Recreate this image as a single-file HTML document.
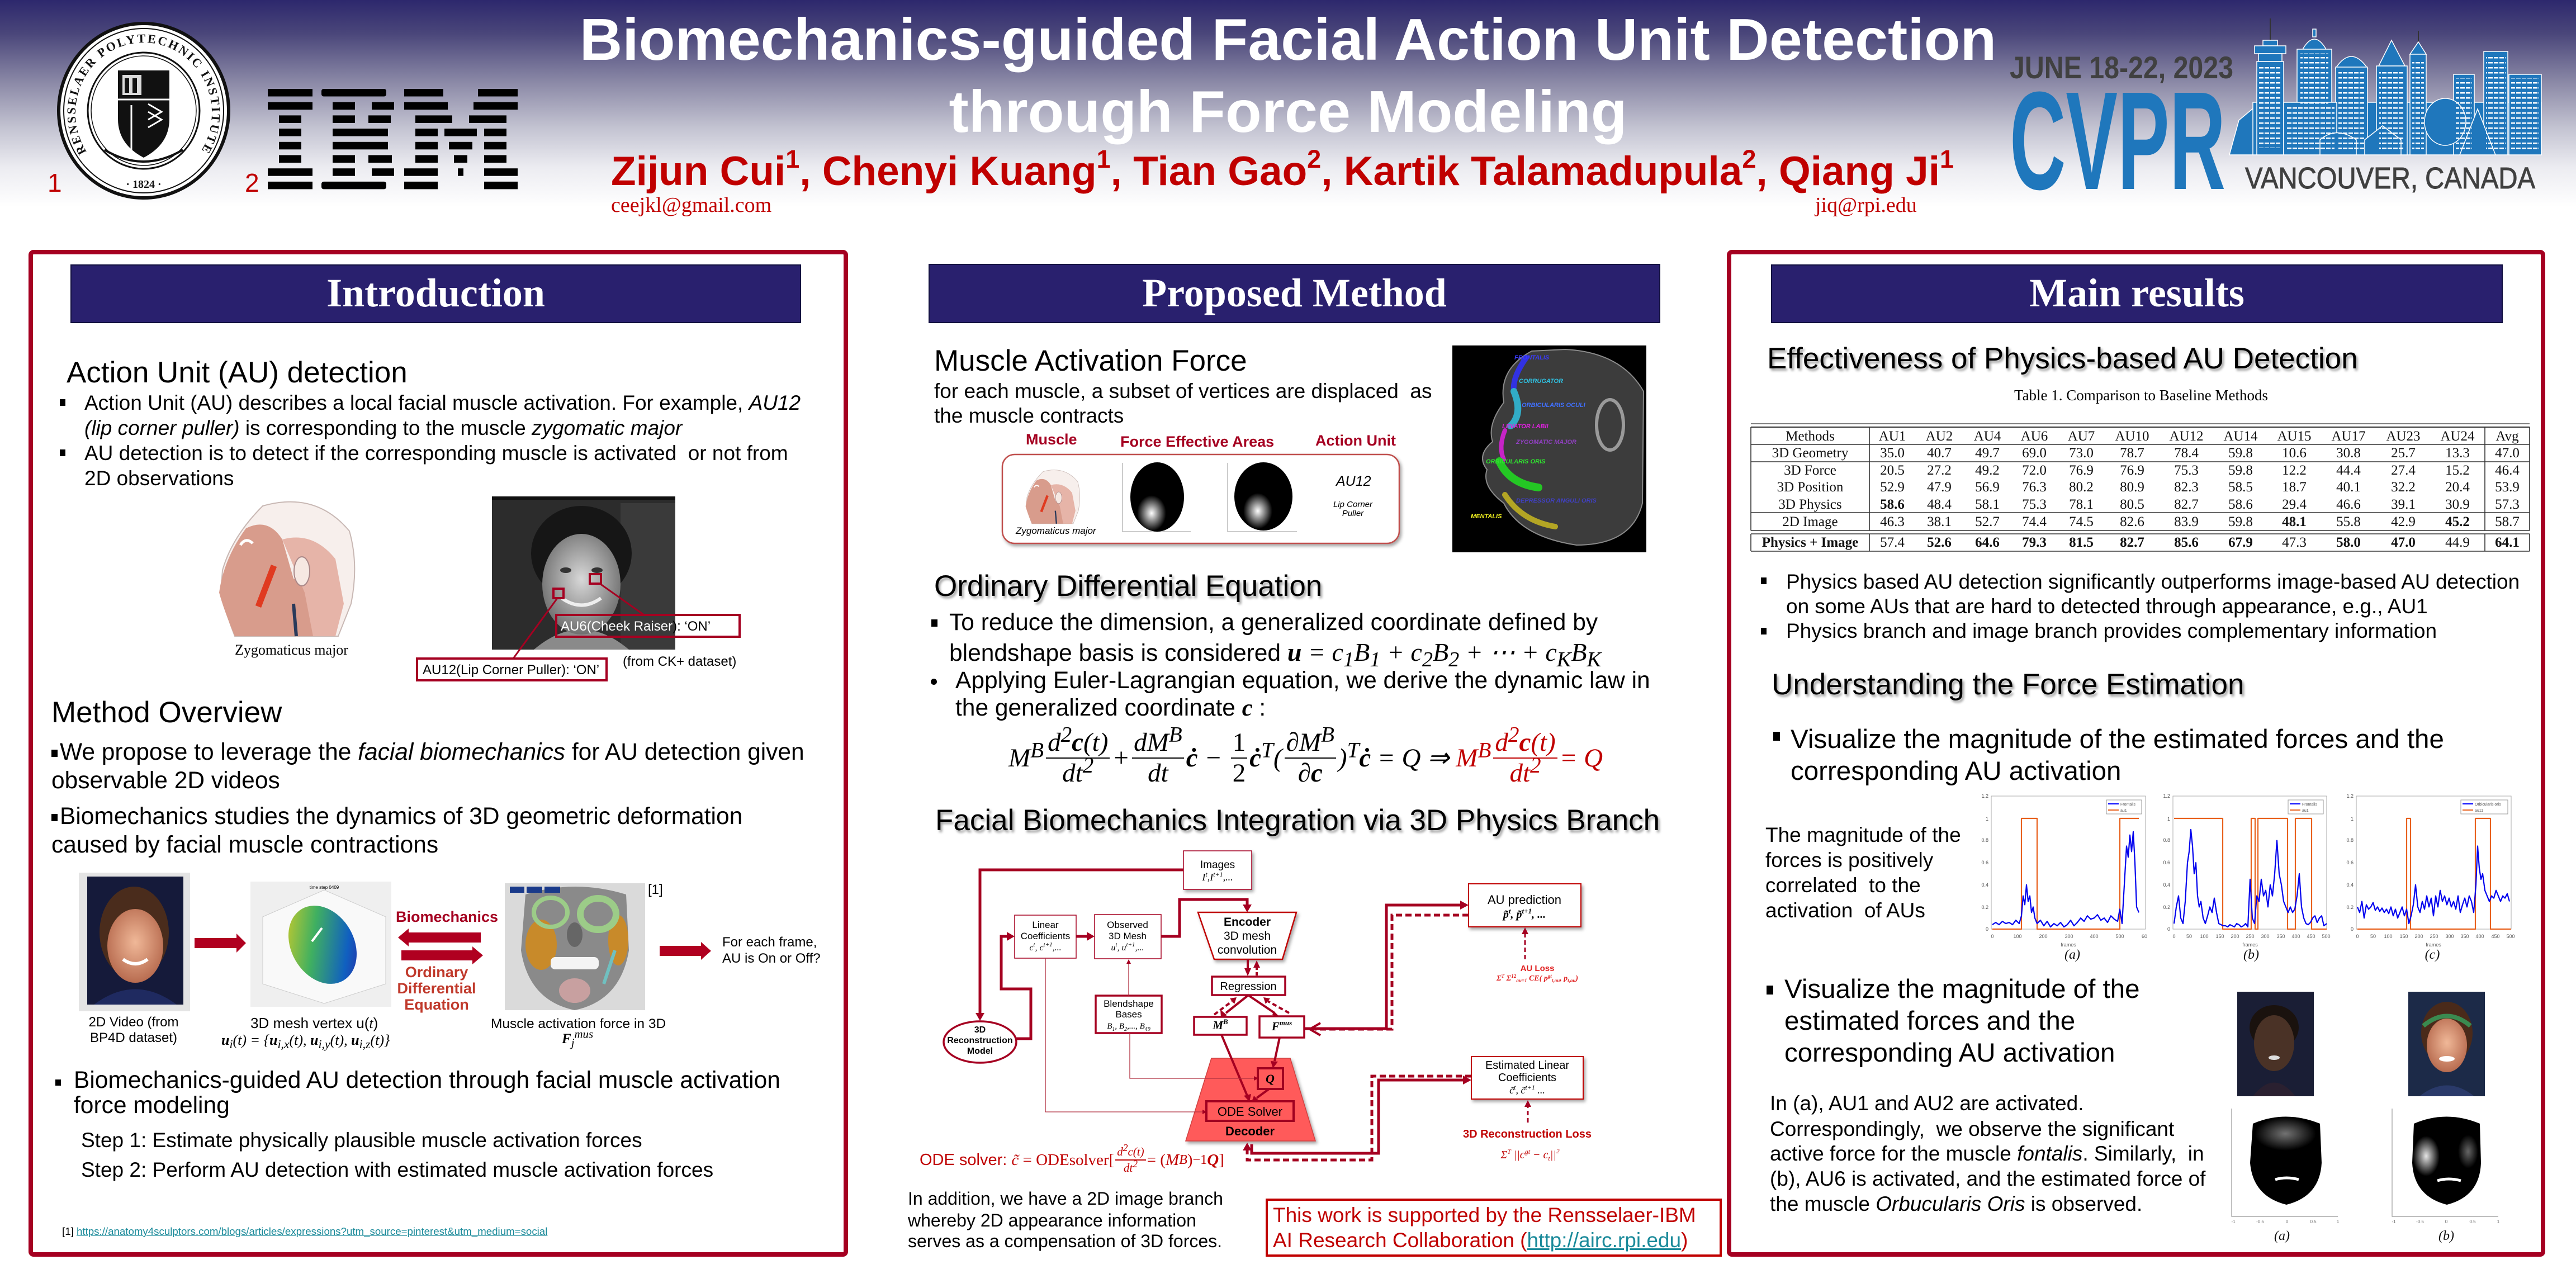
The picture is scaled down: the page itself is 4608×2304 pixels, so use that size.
<!DOCTYPE html>
<html><head><meta charset="utf-8">
<style>
*{margin:0;padding:0;box-sizing:border-box}
html,body{width:4608px;height:2304px;overflow:hidden;background:#fff}
#p{position:relative;width:4608px;height:2304px;font-family:"Liberation Sans",Arial,sans-serif;color:#000;overflow:hidden}
.a{position:absolute;white-space:nowrap}
.s{font-family:"Liberation Serif","Times New Roman",serif}
.bar{position:absolute;background:#29206e;border:2px solid #121040;color:#fff;font-family:"Liberation Serif","Times New Roman",serif;font-weight:bold;font-size:72px;text-align:center}
.panel{position:absolute;border:8px solid #a50021;border-radius:9px}
.h{font-size:53px;line-height:53px;text-shadow:3px 4px 4px rgba(0,0,0,.38)}
.b{position:absolute;background:#000}
sup,sub{line-height:0}
.f37{font-size:37px;line-height:37px}
.f42{font-size:42.5px;line-height:42.5px}
.f47{font-size:47.5px;line-height:47.5px}
.eq{display:flex;align-items:center;font-family:"Liberation Serif","Times New Roman",serif;font-style:italic;font-size:47px;line-height:1}
.fr{display:inline-flex;flex-direction:column;align-items:center;margin:0 4px}
.fr>span{padding:0 3px}
.fr>span:first-child{border-bottom:2px solid currentColor;padding-bottom:3px}
.fr>span:last-child{padding-top:3px}
.m{font-family:"Liberation Serif","Times New Roman",serif;font-style:italic}
</style></head><body><div id="p">

<!-- header gradient -->
<div class="a" style="left:0;top:0;width:4608px;height:380px;background:linear-gradient(#2d286d 0px,#4a467a 60px,#8d8ba8 150px,#c4c4d2 230px,#ececf1 300px,#ffffff 370px)"></div>

<svg class="a" style="left:0;top:0" width="4608" height="2304" viewBox="0 0 4608 2304" xmlns="http://www.w3.org/2000/svg">
<defs>
<filter id="ds" x="-10%" y="-10%" width="130%" height="140%"><feDropShadow dx="3" dy="4" stdDeviation="3" flood-color="#000" flood-opacity="0.35"/></filter>
<pattern id="win" width="10" height="9" patternUnits="userSpaceOnUse"><rect x="1" y="3" width="8" height="2.5" fill="#fff"/></pattern>
<radialGradient id="face1" cx="50%" cy="45%" r="55%"><stop offset="0" stop-color="#f0b898"/><stop offset="1" stop-color="#b86c50"/></radialGradient>
<radialGradient id="wg"><stop offset="0" stop-color="#fff"/><stop offset="1" stop-color="#fff" stop-opacity="0"/></radialGradient>
<radialGradient id="gface" cx="50%" cy="45%" r="55%"><stop offset="0" stop-color="#d8d8d8"/><stop offset="1" stop-color="#707070"/></radialGradient>
<linearGradient id="mesh" x1="0" y1="0" x2="1" y2="1"><stop offset="0" stop-color="#e8d020"/><stop offset=".4" stop-color="#40b060"/><stop offset=".75" stop-color="#1060c0"/><stop offset="1" stop-color="#3020a0"/></linearGradient>
</defs>

<!-- RPI seal -->
<g transform="translate(257,198)">
 <ellipse rx="152" ry="156" fill="#fff" stroke="#111" stroke-width="6"/>
 <ellipse rx="143" ry="147" fill="none" stroke="#111" stroke-width="2"/>
 <ellipse rx="100" ry="104" fill="none" stroke="#111" stroke-width="3"/>
 <ellipse rx="94" ry="98" fill="none" stroke="#111" stroke-width="1.5"/>
 <path id="sp" d="M-104,70 A122,126 0 1,1 104,70" fill="none"/>
 <text font-family="Liberation Serif" font-size="22" font-weight="bold" fill="#111" letter-spacing="3"><textPath href="#sp" startOffset="50%" text-anchor="middle">RENSSELAER POLYTECHNIC INSTITUTE</textPath></text>
 <text y="138" font-family="Liberation Serif" font-size="20" font-weight="bold" text-anchor="middle" fill="#111">· 1824 ·</text>
 <path d="M-46,-72 H46 V15 Q46,60 0,84 Q-46,60 -46,15 Z" fill="#111"/>
 <rect x="-38" y="-64" width="34" height="36" fill="#fff" opacity=".85"/>
 <rect x="-34" y="-58" width="8" height="26" fill="#111"/><rect x="-20" y="-58" width="8" height="26" fill="#111"/>
 <path d="M-46,-20 H46" stroke="#fff" stroke-width="3"/>
 <path d="M8,-12 L32,2 L8,16 M8,2 L32,16 L8,30" stroke="#fff" stroke-width="3" fill="none"/>
 <path d="M-22,-10 V70" stroke="#fff" stroke-width="3"/>
 <path d="M-70,70 Q0,112 70,70" stroke="#111" stroke-width="4" fill="none"/>
</g>

<!-- IBM logo -->
<g transform="translate(479,159)" fill="#000">
 <rect x="0" y="0" width="80" height="13.5"/><rect x="0" y="23.7" width="80" height="13.5"/>
 <rect x="20" y="47.4" width="40" height="13.5"/><rect x="20" y="71.1" width="40" height="13.5"/>
 <rect x="20" y="94.8" width="40" height="13.5"/><rect x="20" y="118.5" width="40" height="13.5"/>
 <rect x="0" y="142.2" width="80" height="13.5"/><rect x="0" y="165.9" width="80" height="13.5"/>
 <rect x="96" y="0" width="116" height="13.5" rx="4"/>
 <rect x="116" y="23.7" width="40" height="13.5"/><rect x="186" y="23.7" width="40" height="13.5"/>
 <rect x="116" y="47.4" width="40" height="13.5"/><rect x="180" y="47.4" width="40" height="13.5"/>
 <rect x="116" y="71.1" width="99" height="13.5"/><rect x="116" y="94.8" width="99" height="13.5"/>
 <rect x="116" y="118.5" width="40" height="13.5"/><rect x="180" y="118.5" width="42" height="13.5"/>
 <rect x="116" y="142.2" width="40" height="13.5"/><rect x="186" y="142.2" width="40" height="13.5"/>
 <rect x="96" y="165.9" width="116" height="13.5" rx="4"/>
 <rect x="244" y="0" width="70" height="13.5"/><rect x="376" y="0" width="71" height="13.5"/>
 <rect x="244" y="23.7" width="78" height="13.5"/><rect x="368" y="23.7" width="79" height="13.5"/>
 <rect x="264" y="47.4" width="66" height="13.5"/><rect x="360" y="47.4" width="67" height="13.5"/>
 <rect x="264" y="71.1" width="40" height="13.5"/><rect x="316" y="71.1" width="58" height="13.5"/><rect x="387" y="71.1" width="40" height="13.5"/>
 <rect x="264" y="94.8" width="40" height="13.5"/><rect x="324" y="94.8" width="42" height="13.5"/><rect x="387" y="94.8" width="40" height="13.5"/>
 <rect x="264" y="118.5" width="40" height="13.5"/><rect x="333" y="118.5" width="24" height="13.5"/><rect x="387" y="118.5" width="40" height="13.5"/>
 <rect x="244" y="142.2" width="60" height="13.5"/><rect x="340" y="142.2" width="10" height="13.5"/><rect x="387" y="142.2" width="60" height="13.5"/>
 <rect x="244" y="165.9" width="60" height="13.5"/><rect x="387" y="165.9" width="60" height="13.5"/>
</g>

<!-- CVPR logo -->
<text x="3595" y="140" font-family="Liberation Sans" font-size="56" font-weight="bold" fill="#404040" textLength="400" lengthAdjust="spacingAndGlyphs">JUNE 18-22, 2023</text>
<text x="3595" y="338" font-family="Liberation Sans" font-size="250" font-weight="bold" fill="#1f77bc" textLength="386" lengthAdjust="spacingAndGlyphs">CVPR</text>
<text x="4016" y="337" font-family="Liberation Sans" font-size="54" fill="#404040" stroke="#404040" stroke-width="1" textLength="519" lengthAdjust="spacingAndGlyphs">VANCOUVER, CANADA</text>
<g fill="#1f77bc" stroke="#fff" stroke-width="1.5">
 <polygon points="3988,277 4005,215 4035,190 4035,277"/>
 <rect x="4030" y="183" width="516" height="94"/>
 <line x1="4061" y1="33" x2="4061" y2="72" stroke="#333" stroke-width="2"/>
 <rect x="4048" y="72" width="26" height="10"/>
 <rect x="4033" y="82" width="56" height="14"/><rect x="4040" y="96" width="42" height="14"/>
 <rect x="4037" y="110" width="48" height="167"/>
 <rect x="4137" y="52" width="6" height="14"/>
 <path d="M4118,90 Q4140,50 4162,90 Z"/>
 <rect x="4109" y="88" width="62" height="189"/>
 <path d="M4178,122 Q4206,80 4235,122 Z"/>
 <rect x="4178" y="120" width="57" height="157"/>
 <polygon points="4255,118 4278,72 4302,118"/>
 <rect x="4251" y="118" width="55" height="159"/>
 <line x1="4326" y1="55" x2="4326" y2="77" stroke="#333" stroke-width="2"/>
 <polygon points="4311,97 4326,75 4340,97"/>
 <rect x="4311" y="97" width="29" height="180"/>
 <rect x="4389" y="133" width="37" height="144"/>
 <rect x="4443" y="92" width="43" height="185"/>
 <rect x="4488" y="133" width="58" height="144"/>
 <rect x="4085" y="183" width="95" height="94"/>
 <ellipse cx="4374" cy="218" rx="37" ry="42"/>
 <polygon points="4400,277 4432,195 4464,277"/>
 <path d="M4150,277 L4150,250 Q4180,225 4215,250 L4215,277 Z"/>
 <path d="M4230,277 L4230,250 L4262,225 L4295,250 L4295,277 Z"/>
</g>
<g fill="url(#win)">
 <rect x="4041" y="115" width="40" height="150"/><rect x="4115" y="95" width="50" height="175"/>
 <rect x="4183" y="128" width="47" height="140"/><rect x="4256" y="125" width="45" height="145"/>
 <rect x="4315" y="105" width="21" height="165"/><rect x="4393" y="140" width="29" height="130"/>
 <rect x="4447" y="100" width="35" height="170"/><rect x="4492" y="140" width="50" height="130"/>
 <rect x="4089" y="190" width="87" height="80"/>
</g>

<!-- ================= LEFT PANEL GRAPHICS ================= -->
<g id="head">
 <path d="M470,905 Q565,878 625,950 Q642,1010 628,1080 L605,1138 L420,1138 Q405,1100 395,1060 L398,1020 Q415,960 470,905 Z" fill="#f7efec" stroke="#c8b8b4" stroke-width="2"/>
 <path d="M440,945 Q480,925 505,965 L525,1035 L565,1050 L600,1138 L420,1138 Q400,1090 392,1060 Q400,1000 440,945 Z" fill="#d89c8c"/>
 <path d="M505,965 Q560,950 600,1000 L615,1080 L600,1138 L560,1138 L545,1060 Z" fill="#e6b4a8"/>
 <line x1="462" y1="1085" x2="490" y2="1012" stroke="#e03a20" stroke-width="11"/>
 <ellipse cx="540" cy="1022" rx="14" ry="26" fill="#f6e8e2" stroke="#a88" stroke-width="2"/>
 <path d="M525,1080 L530,1138" stroke="#2a3a5a" stroke-width="6"/>
 <path d="M430,975 Q440,960 452,972" stroke="#fff" stroke-width="5" fill="none"/>
</g>
<!-- CK+ photo -->
<rect x="880" y="888" width="328" height="274" fill="#2c2c2c"/>
<rect x="1110" y="900" width="98" height="262" fill="#3a3a3a"/>
<rect x="880" y="888" width="328" height="6" fill="#111"/>
<ellipse cx="1040" cy="990" rx="90" ry="85" fill="#161616"/>
<path d="M955,1162 Q1040,1090 1125,1162 Z" fill="#8a8a8a"/>
<ellipse cx="1040" cy="1045" rx="70" ry="90" fill="url(#gface)"/>
<path d="M1005,1070 Q1040,1095 1075,1070" stroke="#eee" stroke-width="6" fill="none"/>
<ellipse cx="1012" cy="1020" rx="10" ry="5" fill="#333"/><ellipse cx="1068" cy="1020" rx="10" ry="5" fill="#333"/>
<g stroke="#a50021" fill="none" stroke-width="4">
 <rect x="1055" y="1027" width="20" height="17"/><rect x="990" y="1053" width="18" height="17"/>
 <line x1="1073" y1="1044" x2="1152" y2="1100" stroke-width="3"/>
 <line x1="997" y1="1070" x2="918" y2="1178" stroke-width="3"/>
 <rect x="995" y="1100" width="328" height="39"/>
 <rect x="746" y="1178" width="339" height="39"/>
</g>

<!-- image row -->
<rect x="141" y="1561" width="199" height="248" fill="#e4e4e4"/>
<rect x="156" y="1568" width="172" height="229" fill="#151a3a"/>
<ellipse cx="240" cy="1668" rx="62" ry="82" fill="#4a2c1c"/>
<path d="M168,1797 Q242,1742 316,1797 Z" fill="#1f2a60"/>
<ellipse cx="242" cy="1692" rx="50" ry="66" fill="url(#face1)"/>
<path d="M220,1716 Q242,1732 264,1716" stroke="#fff" stroke-width="6" fill="none"/>

<rect x="448" y="1577" width="252" height="224" fill="#efefef"/>
<polygon points="470,1640 580,1592 690,1640 690,1760 580,1795 470,1760" fill="#f9f9f9" stroke="#ccc"/>
<ellipse cx="577" cy="1690" rx="56" ry="74" transform="rotate(-30 577 1690)" fill="url(#mesh)"/>
<path d="M558,1684 L576,1660" stroke="#fff" stroke-width="4"/>
<text x="580" y="1590" font-family="Liberation Sans" font-size="8" text-anchor="middle">time step 0409</text>

<g fill="#b00020">
 <polygon points="348,1678 423,1678 423,1670 440,1687 423,1704 423,1696 348,1696"/>
 <polygon points="860,1668 731,1668 731,1661 712,1677 731,1693 731,1686 860,1686"/>
 <polygon points="718,1700 845,1700 845,1693 864,1709 845,1725 845,1718 718,1718"/>
 <polygon points="1180,1692 1254,1692 1254,1685 1272,1701 1254,1717 1254,1710 1180,1710"/>
</g>

<rect x="903" y="1580" width="251" height="227" fill="#dadada"/>
<path d="M940,1600 Q1028,1572 1120,1600 L1125,1700 Q1110,1790 1028,1807 Q946,1790 932,1700 Z" fill="#8a8a8a"/>
<ellipse cx="968" cy="1690" rx="28" ry="45" fill="#c88a2a"/>
<ellipse cx="1106" cy="1682" rx="18" ry="45" fill="#c88a2a"/>
<ellipse cx="1070" cy="1635" rx="32" ry="28" fill="none" stroke="#9ccc88" stroke-width="12"/>
<ellipse cx="985" cy="1632" rx="30" ry="26" fill="none" stroke="#9ccc88" stroke-width="8"/>
<ellipse cx="1028" cy="1672" rx="14" ry="22" fill="#666"/>
<rect x="985" y="1712" width="86" height="22" rx="8" fill="#f4f4f4"/>
<ellipse cx="1028" cy="1772" rx="28" ry="22" fill="#c8a0a0"/>
<line x1="1100" y1="1700" x2="1080" y2="1760" stroke="#70c0c0" stroke-width="6"/>
<rect x="912" y="1586" width="26" height="11" fill="#1a3a8a"/><rect x="942" y="1586" width="28" height="11" fill="#1a3a8a"/><rect x="974" y="1586" width="28" height="11" fill="#1a3a8a"/>

<!-- ================= MIDDLE GRAPHICS ================= -->
<rect x="1793" y="813" width="710" height="159" rx="22" fill="#fff" stroke="#c0504d" stroke-width="2.5" filter="url(#ds)"/>
<use href="#head" transform="translate(1833,838) scale(0.4) translate(-388,-891)"/>
<g stroke="#999" stroke-width="1" fill="none">
 <path d="M2008,828 V951 H2130"/><path d="M2196,828 V951 H2320"/>
</g>
<ellipse cx="2070" cy="889" rx="48" ry="62" fill="#000"/>
<ellipse cx="2060" cy="918" rx="26" ry="32" fill="url(#wg)"/>
<ellipse cx="2260" cy="888" rx="52" ry="61" fill="#000"/>
<ellipse cx="2250" cy="914" rx="26" ry="32" fill="url(#wg)"/>

<rect x="2598" y="618" width="347" height="370" fill="#000"/>
<path d="M2740,628 Q2680,660 2690,720 Q2660,760 2670,790 Q2640,815 2660,840 Q2650,870 2690,900 Q2720,960 2820,975 Q2920,975 2938,900 L2940,700 Q2900,630 2800,625 Z" fill="#3c3c3c" stroke="#8a8a8a" stroke-width="2"/>
<ellipse cx="2880" cy="760" rx="24" ry="45" fill="none" stroke="#9a9a9a" stroke-width="6"/>
<g fill="none" stroke-linecap="round" opacity=".85">
 <path d="M2730,640 Q2705,675 2708,700" stroke="#3030ff" stroke-width="10"/>
 <path d="M2708,700 Q2725,740 2702,762" stroke="#30c0e0" stroke-width="12"/>
 <path d="M2692,770 Q2680,800 2690,822" stroke="#e020e0" stroke-width="8"/>
 <path d="M2682,825 Q2700,865 2752,872" stroke="#20e020" stroke-width="14"/>
 <path d="M2692,885 Q2722,932 2782,942" stroke="#c8b820" stroke-width="10"/>
</g>
<g font-family="Liberation Sans" font-size="11" font-style="italic" font-weight="bold">
 <text x="2709" y="643" fill="#3a3aff">FRONTALIS</text>
 <text x="2717" y="685" fill="#30c0e0">CORRUGATOR</text>
 <text x="2722" y="728" fill="#4070ff">ORBICULARIS OCULI</text>
 <text x="2687" y="766" fill="#e020e0">LEVATOR LABII</text>
 <text x="2712" y="794" fill="#9040c0">ZYGOMATIC MAJOR</text>
 <text x="2658" y="829" fill="#30e030">ORBICULARIS ORIS</text>
 <text x="2712" y="899" fill="#4040c0">DEPRESSOR ANGULI ORIS</text>
 <text x="2631" y="927" fill="#f0f020">MENTALIS</text>
</g>

<!-- Diagram -->
<g fill="#fff" stroke="#a50021">
 <rect x="2117" y="1522" width="122" height="69" stroke-width="1.5" filter="url(#ds)"/>
 <ellipse cx="1753" cy="1864" rx="65" ry="37" stroke-width="3.5"/>
 <rect x="1815" y="1637" width="110" height="77" stroke-width="1.5"/>
 <rect x="1958" y="1636" width="119" height="79" stroke-width="1.5"/>
 <polygon points="2143,1632 2319,1632 2294,1716 2172,1716" stroke="#c00000" stroke-width="2.5" filter="url(#ds)"/>
 <rect x="2168" y="1747" width="131" height="33" stroke-width="3.5"/>
 <rect x="2136" y="1819" width="94" height="32" stroke-width="3.5"/>
 <rect x="2253" y="1818" width="80" height="38" stroke-width="3.5"/>
 <rect x="1960" y="1781" width="118" height="67" stroke-width="3.5"/>
 <rect x="2627" y="1581" width="201" height="77" stroke="#c00000" stroke-width="2" filter="url(#ds)"/>
 <rect x="2632" y="1890" width="200" height="76" stroke="#c00000" stroke-width="2" filter="url(#ds)"/>
</g>
<polygon points="2167,1893 2308,1893 2353,2041 2121,2041" fill="#ff5a5a" stroke="#d04040" stroke-width="1.5" filter="url(#ds)"/>
<rect x="2250" y="1911" width="45" height="37" fill="none" stroke="#a00020" stroke-width="4"/>
<rect x="2158" y="1970" width="156" height="35" fill="none" stroke="#a00020" stroke-width="4"/>
<g fill="none" stroke="#a50021" stroke-width="5">
 <path d="M2117,1556 H1753 V1812"/>
 <path d="M1818,1858 H1844 V1769 H1791 V1675 H1801"/>
 <path d="M1925,1675 H1944"/>
 <path d="M2077,1675 H2110 V1609 H2231 V1618"/>
 <path d="M2333,1840 H2480 V1619 H2612"/>
 <path d="M2239,2047 V2063 H2466 V1932 H2617"/>
 <path d="M2627,1637 H2490 V1841 H2352" stroke-dasharray="11 6"/>
 <path d="M2632,1925 H2454 V2075 H2231 V2058" stroke-dasharray="11 6"/>
</g>
<g fill="none" stroke="#a50021" stroke-width="4">
 <path d="M2232,1716 V1733"/>
 <path d="M2248,1745 V1731" stroke-dasharray="6 4"/>
 <path d="M2232,1781 L2193,1812"/>
 <path d="M2234,1781 L2280,1812"/>
 <path d="M2172,1815 L2204,1791" stroke-dasharray="8 5"/>
 <path d="M2306,1812 L2268,1791" stroke-dasharray="8 5"/>
 <path d="M2185,1851 L2231,1960"/>
 <path d="M2289,1856 L2280,1898"/>
 <path d="M2270,1948 L2248,1964"/>
 <path d="M2728,1716 V1671" stroke-width="3" stroke-dasharray="8 5"/>
 <path d="M2733,2008 V1980" stroke-width="3" stroke-dasharray="8 5"/>
 <polyline points="2362,1830 2343,1841 2362,1852"/>
</g>
<g fill="none" stroke="#b03040" stroke-width="1.3">
 <path d="M2021,1848 V1929 H2243"/>
 <path d="M1870,1714 V1989 H2151"/>
 <path d="M2019,1781 V1724"/>
</g>
<g fill="#a50021">
 <polygon points="1745,1812 1761,1812 1753,1826"/>
 <polygon points="1801,1667 1815,1675 1801,1683"/>
 <polygon points="1944,1667 1958,1675 1944,1683"/>
 <polygon points="2223,1618 2239,1618 2231,1632"/>
 <polygon points="2226,1732 2238,1732 2232,1746"/>
 <polygon points="2242,1731 2254,1731 2248,1718"/>
 <polygon points="2183,1806 2195,1816 2184,1820"/>
 <polygon points="2278,1808 2288,1818 2276,1816"/>
 <polygon points="2200,1786 2212,1784 2208,1796"/>
 <polygon points="2272,1786 2260,1784 2264,1796"/>
 <polygon points="2225,1960 2238,1957 2235,1971"/>
 <polygon points="2273,1898 2286,1899 2277,1911"/>
 <polygon points="2243,1960 2251,1968 2239,1971"/>
 <polygon points="2612,1611 2627,1619 2612,1627"/>
 <polygon points="2617,1924 2632,1932 2617,1940"/>
 <polygon points="2223,2058 2239,2058 2231,2044"/>
 <polygon points="2722,1671 2734,1671 2728,1659"/>
 <polygon points="2727,1980 2739,1980 2733,1968"/>
 <polygon points="2243,1925 2251,1929 2243,1933"/>
 <polygon points="2151,1985 2159,1989 2151,1993"/>
 <polygon points="2015,1724 2023,1724 2019,1716"/>
</g>
<g font-family="Liberation Sans" text-anchor="middle" fill="#000">
 <text x="2178" y="1553" font-size="19">Images</text>
 <text x="2178" y="1575" font-size="18" font-family="Liberation Serif" font-style="italic">I<tspan font-size="12" dy="-7">t</tspan><tspan dy="7">,I</tspan><tspan font-size="12" dy="-7">t+1</tspan><tspan dy="7">,...</tspan></text>
 <text x="1753" y="1847" font-size="16" font-weight="bold">3D</text>
 <text x="1753" y="1866" font-size="16" font-weight="bold">Reconstruction</text>
 <text x="1753" y="1885" font-size="16" font-weight="bold">Model</text>
 <text x="1870" y="1660" font-size="17">Linear</text>
 <text x="1870" y="1680" font-size="17">Coefficients</text>
 <text x="1870" y="1700" font-size="16" font-family="Liberation Serif" font-style="italic">c<tspan font-size="11" dy="-7">t</tspan><tspan dy="7">, c</tspan><tspan font-size="11" dy="-7">t+1</tspan><tspan dy="7">,...</tspan></text>
 <text x="2017" y="1660" font-size="17">Observed</text>
 <text x="2017" y="1680" font-size="17">3D Mesh</text>
 <text x="2017" y="1700" font-size="16" font-family="Liberation Serif" font-style="italic">u<tspan font-size="11" dy="-7">t</tspan><tspan dy="7">, u</tspan><tspan font-size="11" dy="-7">t+1</tspan><tspan dy="7">,...</tspan></text>
 <text x="2231" y="1656" font-size="21" font-weight="bold">Encoder</text>
 <text x="2231" y="1681" font-size="21">3D mesh</text>
 <text x="2231" y="1706" font-size="21">convolution</text>
 <text x="2233" y="1771" font-size="20">Regression</text>
 <text x="2183" y="1841" font-size="21" font-family="Liberation Serif" font-style="italic" font-weight="bold">M<tspan font-size="13" dy="-9">B</tspan></text>
 <text x="2293" y="1843" font-size="21" font-family="Liberation Serif" font-style="italic" font-weight="bold">F<tspan font-size="13" dy="-9">mus</tspan></text>
 <text x="2272" y="1937" font-size="22" font-family="Liberation Serif" font-style="italic" font-weight="bold">Q</text>
 <text x="2236" y="1996" font-size="22">ODE Solver</text>
 <text x="2236" y="2031" font-size="22" font-weight="bold">Decoder</text>
 <text x="2019" y="1801" font-size="17">Blendshape</text>
 <text x="2019" y="1820" font-size="17">Bases</text>
 <text x="2019" y="1840" font-size="15" font-family="Liberation Serif" font-style="italic">B<tspan font-size="10" dy="4">1</tspan><tspan dy="-4">, B</tspan><tspan font-size="10" dy="4">2</tspan><tspan dy="-4">,..., B</tspan><tspan font-size="10" dy="4">49</tspan></text>
 <text x="2727" y="1617" font-size="22">AU prediction</text>
 <text x="2727" y="1642" font-size="20" font-family="Liberation Serif" font-style="italic" font-weight="bold">p&#x303;<tspan font-size="13" dy="-8">t</tspan><tspan dy="8">, p&#x303;</tspan><tspan font-size="13" dy="-8">t+1</tspan><tspan dy="8">, ...</tspan></text>
 <text x="2750" y="1737" font-size="15" font-weight="bold" fill="#e02020">AU Loss</text>
 <text x="2750" y="1754" font-size="14" font-family="Liberation Serif" font-style="italic" font-weight="bold" fill="#e02020">Σ<tspan font-size="9" dy="-5">T</tspan><tspan dy="5">  Σ</tspan><tspan font-size="9" dy="-5">12</tspan><tspan font-size="9" dy="8">au=1</tspan><tspan dy="-3"> CE( p</tspan><tspan font-size="9" dy="-5">gt</tspan><tspan font-size="9" dy="8">t,au</tspan><tspan dy="-3">, p</tspan><tspan font-size="9" dy="3">t,au</tspan><tspan dy="-3">)</tspan></text>
 <text x="2732" y="1912" font-size="20">Estimated Linear</text>
 <text x="2732" y="1934" font-size="20">Coefficients</text>
 <text x="2732" y="1956" font-size="18" font-family="Liberation Serif" font-style="italic">c&#x303;<tspan font-size="12" dy="-7">t</tspan><tspan dy="7">, c&#x303;</tspan><tspan font-size="12" dy="-7">t+1</tspan><tspan dy="7"> ...</tspan></text>
 <text x="2732" y="2035" font-size="20" font-weight="bold" fill="#c00000">3D Reconstruction Loss</text>
 <text x="2737" y="2072" font-size="20" font-family="Liberation Serif" font-style="italic" fill="#c00000">Σ<tspan font-size="12" dy="-8">T</tspan><tspan dy="8"> ||c</tspan><tspan font-size="12" dy="-8">gt</tspan><tspan dy="8"> − c</tspan><tspan font-size="12" dy="4">t</tspan><tspan dy="-4">||</tspan><tspan font-size="12" dy="-9">2</tspan></text>
</g>
<rect x="2266" y="2146" width="812" height="100" fill="none" stroke="#c00000" stroke-width="4"/>

<!-- ================= RIGHT PANEL GRAPHICS ================= -->
<g stroke="#333" stroke-width="1.6" fill="none">
 <line x1="3132" y1="758" x2="4525" y2="758" stroke-width="1.2"/>
 <line x1="3132" y1="764" x2="4525" y2="764" stroke-width="2"/>
 <line x1="3132" y1="795" x2="4525" y2="795"/>
 <line x1="3132" y1="826" x2="4525" y2="826"/>
 <line x1="3132" y1="917" x2="4525" y2="917"/>
 <line x1="3132" y1="949" x2="4525" y2="949"/>
 <line x1="3132" y1="955" x2="4525" y2="955"/>
 <line x1="3132" y1="986" x2="4525" y2="986"/>
 <path d="M3132,764 V949 M3344,764 V949 M4445,764 V949 M4525,764 V949 M3132,955 V986 M3344,955 V986 M4445,955 V986 M4525,955 V986"/>
</g>
<g font-family="Liberation Serif" font-size="25" text-anchor="middle" fill="#111">
 <text x="3238" y="788">Methods</text>
 <text x="3385" y="788">AU1</text><text x="3469" y="788">AU2</text><text x="3555" y="788">AU4</text><text x="3639" y="788">AU6</text><text x="3723" y="788">AU7</text><text x="3814" y="788">AU10</text><text x="3911" y="788">AU12</text><text x="4008" y="788">AU14</text><text x="4104" y="788">AU15</text><text x="4201" y="788">AU17</text><text x="4299" y="788">AU23</text><text x="4396" y="788">AU24</text><text x="4485" y="788">Avg</text>
 <text x="3238" y="818">3D Geometry</text>
 <text x="3385" y="818">35.0</text><text x="3469" y="818">40.7</text><text x="3555" y="818">49.7</text><text x="3639" y="818">69.0</text><text x="3723" y="818">73.0</text><text x="3814" y="818">78.7</text><text x="3911" y="818">78.4</text><text x="4008" y="818">59.8</text><text x="4104" y="818">10.6</text><text x="4201" y="818">30.8</text><text x="4299" y="818">25.7</text><text x="4396" y="818">13.3</text><text x="4485" y="818">47.0</text>
 <text x="3238" y="849">3D Force</text>
 <text x="3385" y="849">20.5</text><text x="3469" y="849">27.2</text><text x="3555" y="849">49.2</text><text x="3639" y="849">72.0</text><text x="3723" y="849">76.9</text><text x="3814" y="849">76.9</text><text x="3911" y="849">75.3</text><text x="4008" y="849">59.8</text><text x="4104" y="849">12.2</text><text x="4201" y="849">44.4</text><text x="4299" y="849">27.4</text><text x="4396" y="849">15.2</text><text x="4485" y="849">46.4</text>
 <text x="3238" y="879">3D Position</text>
 <text x="3385" y="879">52.9</text><text x="3469" y="879">47.9</text><text x="3555" y="879">56.9</text><text x="3639" y="879">76.3</text><text x="3723" y="879">80.2</text><text x="3814" y="879">80.9</text><text x="3911" y="879">82.3</text><text x="4008" y="879">58.5</text><text x="4104" y="879">18.7</text><text x="4201" y="879">40.1</text><text x="4299" y="879">32.2</text><text x="4396" y="879">20.4</text><text x="4485" y="879">53.9</text>
 <text x="3238" y="910">3D Physics</text>
 <text x="3385" y="910" font-weight="bold">58.6</text><text x="3469" y="910">48.4</text><text x="3555" y="910">58.1</text><text x="3639" y="910">75.3</text><text x="3723" y="910">78.1</text><text x="3814" y="910">80.5</text><text x="3911" y="910">82.7</text><text x="4008" y="910">58.6</text><text x="4104" y="910">29.4</text><text x="4201" y="910">46.6</text><text x="4299" y="910">39.1</text><text x="4396" y="910">30.9</text><text x="4485" y="910">57.3</text>
 <text x="3238" y="941">2D Image</text>
 <text x="3385" y="941">46.3</text><text x="3469" y="941">38.1</text><text x="3555" y="941">52.7</text><text x="3639" y="941">74.4</text><text x="3723" y="941">74.5</text><text x="3814" y="941">82.6</text><text x="3911" y="941">83.9</text><text x="4008" y="941">59.8</text><text x="4104" y="941" font-weight="bold">48.1</text><text x="4201" y="941">55.8</text><text x="4299" y="941">42.9</text><text x="4396" y="941" font-weight="bold">45.2</text><text x="4485" y="941">58.7</text>
 <text x="3238" y="978" font-weight="bold">Physics + Image</text>
 <text x="3385" y="978">57.4</text><text x="3469" y="978" font-weight="bold">52.6</text><text x="3555" y="978" font-weight="bold">64.6</text><text x="3639" y="978" font-weight="bold">79.3</text><text x="3723" y="978" font-weight="bold">81.5</text><text x="3814" y="978" font-weight="bold">82.7</text><text x="3911" y="978" font-weight="bold">85.6</text><text x="4008" y="978" font-weight="bold">67.9</text><text x="4104" y="978">47.3</text><text x="4201" y="978" font-weight="bold">58.0</text><text x="4299" y="978" font-weight="bold">47.0</text><text x="4396" y="978">44.9</text><text x="4485" y="978" font-weight="bold">64.1</text>
</g>

<!-- plots -->
<g font-family="Liberation Sans" font-size="9" fill="#555">
 <rect x="3562" y="1424" width="276" height="238" fill="#fff" stroke="#aaa"/>
 <rect x="3887" y="1424" width="275" height="238" fill="#fff" stroke="#aaa"/>
 <rect x="4215" y="1424" width="277" height="238" fill="#fff" stroke="#aaa"/>
 <g text-anchor="end">
  <text x="3557" y="1427">1.2</text><text x="3557" y="1468">1</text><text x="3557" y="1506">0.8</text><text x="3557" y="1546">0.6</text><text x="3557" y="1586">0.4</text><text x="3557" y="1626">0.2</text><text x="3557" y="1665">0</text>
  <text x="3882" y="1427">1.2</text><text x="3882" y="1468">1</text><text x="3882" y="1506">0.8</text><text x="3882" y="1546">0.6</text><text x="3882" y="1586">0.4</text><text x="3882" y="1626">0.2</text><text x="3882" y="1665">0</text>
  <text x="4210" y="1427">1.2</text><text x="4210" y="1468">1</text><text x="4210" y="1506">0.8</text><text x="4210" y="1546">0.6</text><text x="4210" y="1586">0.4</text><text x="4210" y="1626">0.2</text><text x="4210" y="1665">0</text>
 </g>
 <g text-anchor="middle">
  <text x="3564" y="1678">0</text><text x="3609" y="1678">100</text><text x="3655" y="1678">200</text><text x="3701" y="1678">300</text><text x="3746" y="1678">400</text><text x="3792" y="1678">500</text><text x="3836" y="1678">60</text><text x="3700" y="1693">frames</text>
  <text x="3889" y="1678">0</text><text x="3916" y="1678">50</text><text x="3943" y="1678">100</text><text x="3971" y="1678">150</text><text x="3998" y="1678">200</text><text x="4025" y="1678">250</text><text x="4052" y="1678">300</text><text x="4080" y="1678">350</text><text x="4107" y="1678">400</text><text x="4134" y="1678">450</text><text x="4161" y="1678">500</text><text x="4025" y="1693">frames</text>
  <text x="4217" y="1678">0</text><text x="4245" y="1678">50</text><text x="4272" y="1678">100</text><text x="4300" y="1678">150</text><text x="4327" y="1678">200</text><text x="4354" y="1678">250</text><text x="4382" y="1678">300</text><text x="4409" y="1678">350</text><text x="4436" y="1678">400</text><text x="4464" y="1678">450</text><text x="4491" y="1678">500</text><text x="4353" y="1693">frames</text>
 </g>
 <rect x="3768" y="1431" width="63" height="25" fill="#fff" stroke="#999"/>
 <rect x="4093" y="1431" width="63" height="25" fill="#fff" stroke="#999"/>
 <rect x="4402" y="1431" width="84" height="25" fill="#fff" stroke="#999"/>
 <g font-size="7">
  <text x="3793" y="1441">Frontalis</text><text x="3793" y="1452">au1</text>
  <text x="4118" y="1441">Frontalis</text><text x="4118" y="1452">au1</text>
  <text x="4427" y="1441">Orbicularis oris</text><text x="4427" y="1452">au11</text>
 </g>
 <g stroke-width="2"><line x1="3771" y1="1438" x2="3790" y2="1438" stroke="#0000ff"/><line x1="3771" y1="1449" x2="3790" y2="1449" stroke="#e8601c"/>
 <line x1="4096" y1="1438" x2="4115" y2="1438" stroke="#0000ff"/><line x1="4096" y1="1449" x2="4115" y2="1449" stroke="#e8601c"/>
 <line x1="4405" y1="1438" x2="4424" y2="1438" stroke="#0000ff"/><line x1="4405" y1="1449" x2="4424" y2="1449" stroke="#e8601c"/></g>
</g>
<g fill="none" stroke-width="2.2" stroke-linejoin="round">
 <g transform="translate(3564,1662) scale(1,-198)">
  <path vector-effect="non-scaling-stroke" stroke="#e8601c" d="M0 0 H52 V1 H80 V0 H228 V1 H262"/>
  <path vector-effect="non-scaling-stroke" stroke="#0000ee" d="M0 .04 L6 .06 L12 .04 L18 .07 L24 .05 L30 .06 L36 .04 L42 .08 L48 .05 L52 .12 L55 .3 L58 .22 L61 .4 L64 .25 L67 .3 L70 .15 L73 .2 L76 .1 L80 .05 L86 .08 L92 .03 L98 .07 L104 .02 L110 .05 L116 .03 L122 .06 L128 .02 L134 .04 L140 .08 L146 .03 L152 .06 L158 .1 L164 .07 L170 .12 L176 .09 L182 .1 L188 .13 L194 .08 L200 .1 L206 .06 L212 .12 L218 .09 L224 .07 L228 .18 L232 .05 L236 .4 L240 .75 L243 .65 L246 .85 L249 .7 L252 .88 L255 .6 L258 .2 L262 .15"/>
 </g>
 <g transform="translate(3889,1662) scale(1,-198)">
  <path vector-effect="non-scaling-stroke" stroke="#e8601c" d="M0 1 H87 V0 H138 V1 H145 V0 H150 V1 H203 V0 H217 V1 H246 V0 H273"/>
  <path vector-effect="non-scaling-stroke" stroke="#0000ee" d="M0 .05 L4 .2 L8 .3 L12 .1 L16 .05 L20 .25 L24 .6 L27 .7 L30 .9 L33 .75 L36 .5 L39 .6 L42 .3 L45 .2 L48 .25 L52 .1 L56 .05 L60 .12 L64 .2 L68 .15 L72 .28 L76 .15 L80 .05 L84 .04 L88 .03 L92 .03 L96 .02 L100 .04 L104 .03 L108 .02 L112 .05 L116 .04 L120 .02 L124 .03 L128 .05 L132 .02 L136 .45 L140 .1 L144 .05 L148 .3 L152 .25 L156 .45 L160 .3 L164 .35 L168 .2 L172 .4 L176 .3 L180 .5 L184 .8 L188 .5 L192 .4 L196 .25 L200 .2 L204 .15 L208 .2 L212 .15 L216 .18 L220 .3 L224 .5 L228 .2 L232 .1 L236 .05 L240 .04 L244 .06 L248 .1 L252 .12 L256 .06 L260 .1 L264 .12 L268 .03 L273 .05"/>
 </g>
 <g transform="translate(4217,1662) scale(1,-198)">
  <path vector-effect="non-scaling-stroke" stroke="#e8601c" d="M0 0 H88 V1 H95 V0 H211 V1 H238 V0 H275"/>
  <path vector-effect="non-scaling-stroke" stroke="#0000ee" d="M0 .2 L4 .15 L8 .25 L12 .1 L16 .22 L20 .18 L24 .2 L28 .24 L32 .17 L36 .2 L40 .16 L44 .19 L48 .15 L52 .18 L56 .14 L60 .2 L64 .12 L68 .18 L72 .1 L76 .15 L80 .2 L84 .12 L88 .18 L92 .05 L96 .12 L100 .22 L104 .4 L108 .2 L112 .15 L116 .25 L120 .18 L124 .3 L128 .2 L132 .28 L136 .12 L140 .3 L144 .2 L148 .35 L152 .25 L156 .3 L160 .22 L164 .28 L168 .2 L172 .25 L176 .18 L180 .3 L184 .15 L188 .22 L192 .28 L196 .2 L200 .3 L204 .25 L208 .15 L212 .4 L215 .75 L218 .55 L221 .45 L224 .5 L228 .35 L232 .3 L236 .25 L240 .3 L244 .28 L248 .35 L252 .3 L256 .25 L260 .3 L264 .28 L268 .32 L272 .25"/>
 </g>
</g>
<g font-family="Liberation Serif" font-style="italic" font-size="24" text-anchor="middle" fill="#111">
 <text x="3707" y="1715">(a)</text><text x="4027" y="1715">(b)</text><text x="4351" y="1715">(c)</text>
 <text x="4082" y="2218">(a)</text><text x="4376" y="2218">(b)</text>
</g>

<!-- right photos -->
<rect x="4002" y="1774" width="137" height="187" fill="#1a1e35"/>
<ellipse cx="4068" cy="1838" rx="44" ry="40" fill="#1a120e"/>
<path d="M4030,1961 Q4068,1912 4106,1961 Z" fill="#2a2030"/>
<ellipse cx="4068" cy="1866" rx="36" ry="50" fill="#4a3226"/>
<ellipse cx="4068" cy="1892" rx="10" ry="4" fill="#ddd"/>
<rect x="4308" y="1774" width="137" height="187" fill="#1c2a48"/>
<ellipse cx="4377" cy="1848" rx="46" ry="56" fill="#4a2a1a"/>
<path d="M4328,1961 Q4377,1922 4426,1961 Z" fill="#2a3a6a"/>
<ellipse cx="4377" cy="1870" rx="36" ry="48" fill="url(#face1)"/>
<path d="M4335,1835 Q4377,1800 4419,1835" stroke="#3a8a50" stroke-width="8" fill="none"/>
<ellipse cx="4377" cy="1894" rx="14" ry="5" fill="#fff"/>
<!-- masks -->
<g stroke="#999" stroke-width="1.2" fill="none"><path d="M3992,1983 V2176 H4182"/><path d="M4279,1983 V2176 H4469"/></g>
<g font-family="Liberation Sans" font-size="8" fill="#666" text-anchor="middle">
 <text x="3995" y="2188">-1</text><text x="4043" y="2188">-0.5</text><text x="4091" y="2188">0</text><text x="4138" y="2188">0.5</text><text x="4182" y="2188">1</text>
 <text x="4282" y="2188">-1</text><text x="4329" y="2188">-0.5</text><text x="4376" y="2188">0</text><text x="4423" y="2188">0.5</text><text x="4469" y="2188">1</text>
</g>
<path d="M4030,2010 Q4088,1985 4150,2010 L4153,2080 Q4150,2140 4090,2155 Q4030,2140 4025,2080 Z" fill="#000"/>
<ellipse cx="4088" cy="2028" rx="55" ry="30" fill="url(#wg)" opacity=".45"/>
<path d="M4070,2110 Q4090,2104 4112,2110" stroke="#fff" stroke-width="5" fill="none"/>
<path d="M4318,2010 Q4376,1985 4436,2010 L4438,2080 Q4436,2140 4377,2155 Q4318,2140 4315,2080 Z" fill="#000"/>
<ellipse cx="4340" cy="2068" rx="24" ry="36" fill="url(#wg)" opacity=".9"/>
<ellipse cx="4415" cy="2060" rx="18" ry="30" fill="url(#wg)" opacity=".4"/>
<path d="M4360,2112 Q4380,2106 4402,2112" stroke="#fff" stroke-width="5" fill="none"/>
</svg>

<!-- ================= HEADER TEXT ================= -->
<div class="a" style="left:0;width:4608px;top:18px;text-align:center;font-size:106px;line-height:106px;font-weight:bold;color:#fff">Biomechanics-guided Facial Action Unit Detection</div>
<div class="a" style="left:0;width:4608px;top:147px;text-align:center;font-size:106px;line-height:106px;font-weight:bold;color:#fff">through Force Modeling</div>
<div class="a" style="left:1093px;top:270px;font-size:73px;line-height:73px;font-weight:bold;color:#c00000">Zijun Cui<sup style="font-size:45px;position:relative;top:-6px">1</sup>, Chenyi Kuang<sup style="font-size:45px;position:relative;top:-6px">1</sup>, Tian Gao<sup style="font-size:45px;position:relative;top:-6px">2</sup>, Kartik Talamadupula<sup style="font-size:45px;position:relative;top:-6px">2</sup>, Qiang Ji<sup style="font-size:45px;position:relative;top:-6px">1</sup></div>
<div class="a s" style="left:1093px;top:348px;font-size:38px;line-height:38px;color:#c00000">ceejkl@gmail.com</div>
<div class="a s" style="left:3247px;top:348px;font-size:38px;line-height:38px;color:#c00000">jiq@rpi.edu</div>
<div class="a" style="left:85px;top:304px;font-size:46px;line-height:46px;color:#c00000">1</div>
<div class="a" style="left:438px;top:304px;font-size:46px;line-height:46px;color:#c00000">2</div>

<!-- panels and bars -->
<div class="panel" style="left:51px;top:447px;width:1466px;height:1801px"></div>
<div class="panel" style="left:3089px;top:447px;width:1464px;height:1801px"></div>
<div class="bar" style="left:126px;top:473px;width:1307px;height:105px;line-height:99px">Introduction</div>
<div class="bar" style="left:1661px;top:472px;width:1309px;height:106px;line-height:100px">Proposed Method</div>
<div class="bar" style="left:3168px;top:473px;width:1309px;height:105px;line-height:99px">Main results</div>

<!-- ================= LEFT TEXT ================= -->
<div class="a" style="left:119px;top:640px;font-size:53px;line-height:53px">Action Unit (AU) detection</div>
<div class="b" style="left:107px;top:714px;width:10px;height:12px"></div>
<div class="a f37" style="left:151px;top:702px">Action Unit (AU) describes a local facial muscle activation. For example, <i>AU12</i></div>
<div class="a f37" style="left:151px;top:747px"><i>(lip corner puller)</i> is corresponding to the muscle <i>zygomatic major</i></div>
<div class="b" style="left:107px;top:804px;width:10px;height:12px"></div>
<div class="a f37" style="left:151px;top:792px">AU detection is to detect if the corresponding muscle is activated&nbsp; or not from</div>
<div class="a f37" style="left:151px;top:837px">2D observations</div>

<div class="a s" style="left:420px;top:1150px;font-size:26px;line-height:26px">Zygomaticus major</div>
<div class="a" style="left:1003px;top:1109px;font-size:24px;line-height:24px;color:#fff">AU6(Cheek Raiser<span style="color:#000">): ‘ON’</span></div>
<div class="a" style="left:756px;top:1187px;font-size:24px;line-height:24px">AU12(Lip Corner Puller): ‘ON’</div>
<div class="a" style="left:1114px;top:1172px;font-size:24px;line-height:24px">(from CK+ dataset)</div>

<div class="a" style="left:92px;top:1248px;font-size:53px;line-height:53px">Method Overview</div>
<div class="b" style="left:92px;top:1341px;width:11px;height:13px"></div>
<div class="a f42" style="left:107px;top:1325px">We propose to leverage the <i>facial biomechanics</i> for AU detection given</div>
<div class="a f42" style="left:92px;top:1376px">observable 2D videos</div>
<div class="b" style="left:92px;top:1456px;width:11px;height:13px"></div>
<div class="a f42" style="left:107px;top:1440px">Biomechanics studies the dynamics of 3D geometric deformation</div>
<div class="a f42" style="left:92px;top:1491px">caused by facial muscle contractions</div>

<div class="a" style="left:708px;top:1627px;font-size:27px;line-height:27px;font-weight:bold;color:#a50021">Biomechanics</div>
<div class="a" style="left:681px;top:1725px;width:200px;text-align:center;font-size:27px;line-height:29px;font-weight:bold;color:#c0392b;white-space:normal">Ordinary<br>Differential<br>Equation</div>
<div class="a" style="left:119px;top:1815px;width:240px;text-align:center;font-size:24px;line-height:28px;white-space:normal">2D Video (from<br>BP4D dataset)</div>
<div class="a" style="left:448px;top:1817px;font-size:26px;line-height:26px">3D mesh vertex u(<span class="m">t</span>)</div>
<div class="a m" style="left:396px;top:1848px;font-size:26px;line-height:26px"><b>u</b><sub>i</sub>(t) = {<b>u</b><sub>i,x</sub>(t), <b>u</b><sub>i,y</sub>(t), <b>u</b><sub>i,z</sub>(t)}</div>
<div class="a" style="left:878px;top:1820px;font-size:24.5px;line-height:24.5px">Muscle activation force in 3D</div>
<div class="a m" style="left:1005px;top:1846px;font-size:25px;line-height:25px"><b>F</b><sub>j</sub><sup>mus</sup></div>
<div class="a" style="left:1159px;top:1580px;font-size:24px;line-height:24px">[1]</div>
<div class="a" style="left:1292px;top:1671px;font-size:24px;line-height:29px;white-space:normal;width:220px">For each frame,<br>AU is On or Off?</div>

<div class="b" style="left:99px;top:1931px;width:10px;height:11px"></div>
<div class="a f42" style="left:132px;top:1912px">Biomechanics-guided AU detection through facial muscle activation</div>
<div class="a f42" style="left:132px;top:1957px">force modeling</div>
<div class="a f37" style="left:145px;top:2021px">Step 1: Estimate physically plausible muscle activation forces</div>
<div class="a f37" style="left:145px;top:2074px">Step 2: Perform AU detection with estimated muscle activation forces</div>
<div class="a" style="left:111px;top:2193px;font-size:18.7px;line-height:19px">[1] <span style="color:#1a8a9a;text-decoration:underline">https://anatomy4sculptors.com/blogs/articles/expressions?utm_source=pinterest&amp;utm_medium=social</span></div>

<!-- ================= MIDDLE TEXT ================= -->
<div class="a" style="left:1671px;top:619px;font-size:53px;line-height:53px">Muscle Activation Force</div>
<div class="a f37" style="left:1671px;top:681px">for each muscle, a subset of vertices are displaced&nbsp; as</div>
<div class="a f37" style="left:1671px;top:725px">the muscle contracts</div>
<div class="a" style="left:1835px;top:773px;font-size:27px;line-height:27px;font-weight:bold;color:#a50021">Muscle</div>
<div class="a" style="left:2004px;top:777px;font-size:27px;line-height:27px;font-weight:bold;color:#a50021">Force Effective Areas</div>
<div class="a" style="left:2353px;top:775px;font-size:27px;line-height:27px;font-weight:bold;color:#a50021">Action Unit</div>
<div class="a" style="left:1817px;top:941px;font-size:17px;line-height:17px;font-style:italic">Zygomaticus major</div>
<div class="a" style="left:2390px;top:849px;font-size:25px;line-height:25px;font-style:italic">AU12</div>
<div class="a" style="left:2370px;top:895px;width:100px;text-align:center;font-size:15px;line-height:16px;font-style:italic;white-space:normal">Lip Corner<br>Puller</div>

<div class="a h" style="left:1671px;top:1022px">Ordinary Differential Equation</div>
<div class="b" style="left:1666px;top:1108px;width:11px;height:13px"></div>
<div class="a f42" style="left:1698px;top:1093px">To reduce the dimension, a generalized coordinate defined by</div>
<div class="a f42" style="left:1698px;top:1146px">blendshape basis is considered <span class="m" style="font-size:46px"><b>u</b> = c<sub>1</sub>B<sub>1</sub> + c<sub>2</sub>B<sub>2</sub> + ⋯ + c<sub>K</sub>B<sub>K</sub></span></div>
<div class="a" style="left:1665px;top:1214px;width:11px;height:11px;border-radius:50%;background:#000"></div>
<div class="a f42" style="left:1709px;top:1197px">Applying Euler-Lagrangian equation, we derive the dynamic law in</div>
<div class="a f42" style="left:1709px;top:1246px">the generalized coordinate <span class="m"><b>c</b></span> :</div>
<div class="a eq" style="left:1804px;top:1298px;height:116px">
 <span>M<sup>B</sup></span>
 <span class="fr"><span>d<sup>2</sup><b>c</b>(t)</span><span>dt<sup>2</sup></span></span>
 <span>+</span>
 <span class="fr"><span>dM<sup>B</sup></span><span>dt</span></span>
 <span><b>&#x10B;</b>&nbsp;−&nbsp;</span>
 <span class="fr" style="font-style:normal"><span>1</span><span>2</span></span>
 <span><b>&#x10B;</b><sup>T</sup>(</span>
 <span class="fr"><span>∂M<sup>B</sup></span><span>∂<b>c</b></span></span>
 <span>)<sup>T</sup><b>&#x10B;</b> = Q ⇒&nbsp;</span>
 <span style="color:#c00000">M<sup>B</sup></span>
 <span class="fr" style="color:#c00000"><span>d<sup>2</sup><b>c</b>(t)</span><span>dt<sup>2</sup></span></span>
 <span style="color:#c00000">= Q</span>
</div>

<div class="a h" style="left:1673px;top:1441px">Facial Biomechanics Integration via 3D Physics Branch</div>

<div class="a" style="left:1645px;top:2050px;height:50px;display:flex;align-items:center;color:#c00000;font-size:29px;line-height:1">ODE solver:&nbsp;<span class="m" style="font-style:normal;display:flex;align-items:center"><i>c&#x303;</i>&nbsp;= ODEsolver[<span class="fr" style="font-size:21px;font-style:italic;margin:0 2px"><span>d<sup>2</sup>c(t)</span><span>dt<sup>2</sup></span></span>= (<i>M</i><sup><i>B</i></sup>)<sup>−1</sup><b><i>Q</i></b>]</span></div>

<div class="a" style="left:1624px;top:2128px;font-size:32px;line-height:32px">In addition, we have a 2D image branch</div>
<div class="a" style="left:1624px;top:2167px;font-size:32px;line-height:32px">whereby 2D appearance information</div>
<div class="a" style="left:1624px;top:2204px;font-size:32px;line-height:32px">serves as a compensation of 3D forces.</div>
<div class="a f37" style="left:2277px;top:2155px;color:#c00000">This work is supported by the Rensselaer-IBM</div>
<div class="a f37" style="left:2277px;top:2200px;color:#c00000">AI Research Collaboration (<span style="color:#1a8a9a;text-decoration:underline">http://airc.rpi.edu</span>)</div>

<!-- ================= RIGHT TEXT ================= -->
<div class="a h" style="left:3161px;top:615px">Effectiveness of Physics-based AU Detection</div>
<div class="a s" style="left:3430px;top:694px;width:800px;text-align:center;font-size:27px;line-height:27px">Table 1. Comparison to Baseline Methods</div>
<div class="b" style="left:3150px;top:1033px;width:10px;height:12px"></div>
<div class="a f37" style="left:3195px;top:1022px">Physics based AU detection significantly outperforms image-based AU detection</div>
<div class="a f37" style="left:3195px;top:1066px">on some AUs that are hard to detected through appearance, e.g., AU1</div>
<div class="b" style="left:3150px;top:1123px;width:10px;height:12px"></div>
<div class="a f37" style="left:3195px;top:1110px">Physics branch and image branch provides complementary information</div>

<div class="a h" style="left:3169px;top:1198px">Understanding the Force Estimation</div>
<div class="b" style="left:3172px;top:1309px;width:12px;height:16px"></div>
<div class="a f47" style="left:3203px;top:1299px">Visualize the magnitude of the estimated forces and the</div>
<div class="a f47" style="left:3203px;top:1356px">corresponding AU activation</div>
<div class="a f37" style="left:3158px;top:1475px">The magnitude of the</div>
<div class="a f37" style="left:3158px;top:1520px">forces is positively</div>
<div class="a f37" style="left:3158px;top:1565px">correlated&nbsp; to the</div>
<div class="a f37" style="left:3158px;top:1610px">activation&nbsp; of AUs</div>
<div class="b" style="left:3160px;top:1763px;width:12px;height:16px"></div>
<div class="a f47" style="left:3192px;top:1746px">Visualize the magnitude of the</div>
<div class="a f47" style="left:3192px;top:1803px">estimated forces and the</div>
<div class="a f47" style="left:3192px;top:1860px">corresponding AU activation</div>
<div class="a f37" style="left:3166px;top:1955px">In (a), AU1 and AU2 are activated.</div>
<div class="a f37" style="left:3166px;top:2001px">Correspondingly,&nbsp; we observe the significant</div>
<div class="a f37" style="left:3166px;top:2045px">active force for the muscle <i>fontalis</i>. Similarly,&nbsp; in</div>
<div class="a f37" style="left:3166px;top:2090px">(b), AU6 is activated, and the estimated force of</div>
<div class="a f37" style="left:3166px;top:2135px">the muscle <i>Orbucularis Oris</i> is observed.</div>

</div></body></html>
